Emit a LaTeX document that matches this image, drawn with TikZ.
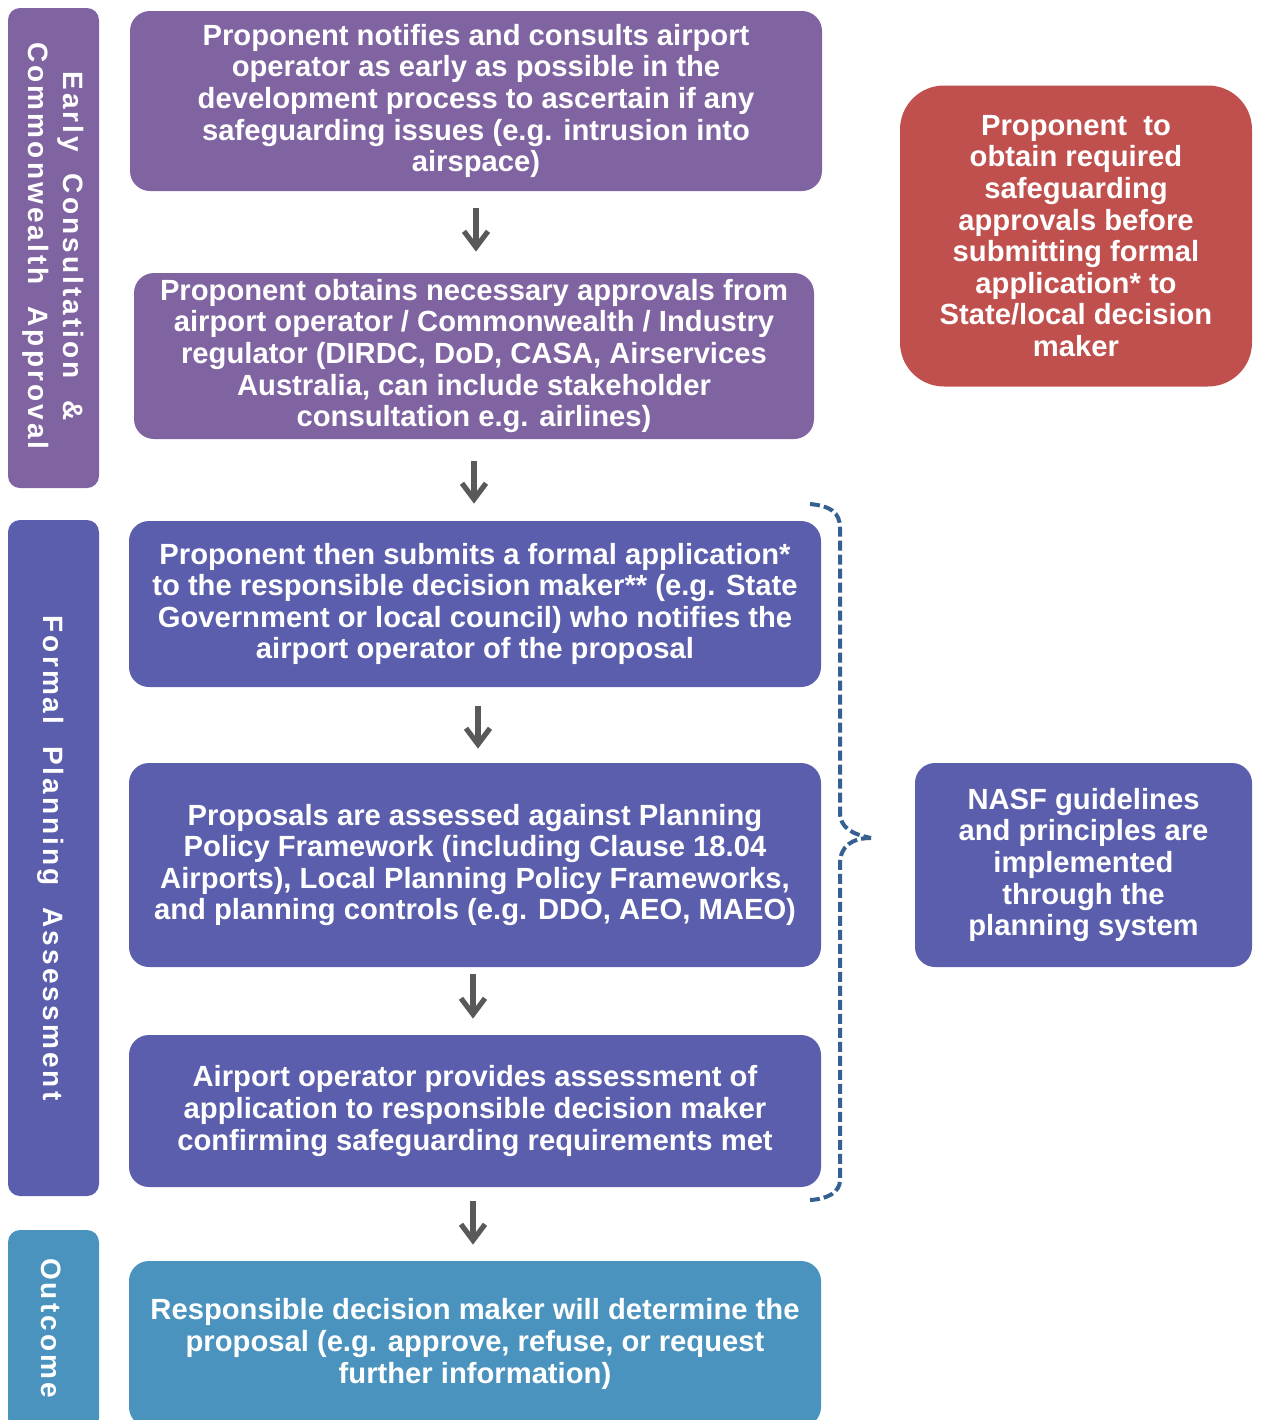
\documentclass[tikz,border=0pt]{standalone}
\usepackage{fontspec}
\setmainfont{Liberation Sans}
\usepackage{tikz}
\usetikzlibrary{positioning}
\usetikzlibrary{calc,arrows.meta}

\definecolor{earlypurple}{RGB}{128,100,162}
\definecolor{formalblue}{RGB}{90,94,172}
\definecolor{outcomeblue}{RGB}{75,147,191}
\definecolor{safered}{RGB}{192,80,77}
\definecolor{arrowgray}{RGB}{89,89,89}
\definecolor{bracketblue}{RGB}{52,96,146}

\begin{document}
\begin{tikzpicture}[x=0.5pt,y=-0.5pt,
  stepbox/.style={rounded corners=10pt, inner sep=0pt, text=white,
    align=center, font=\fontsize{14.6}{15.8}\selectfont\bfseries},
  sidebar/.style={rounded corners=6pt, inner sep=0pt, minimum width=45.5pt},
  sidetext/.style={rotate=-90, text=white, align=center,
    font=\fontsize{14}{17.5}\selectfont\bfseries\addfontfeatures{LetterSpace=11}},
  flowarrow/.style={draw=arrowgray, line width=2.6pt,
    -{Straight Barb[length=8pt,width=12pt]}},
  bracket/.style={draw=bracketblue, line width=2pt, dash pattern=on 5pt off 2pt}]

% Define page size
\pgfmathsetmacro{\pagew}{1260}
\pgfmathsetmacro{\pageh}{1420}
\clip (0,0) rectangle (\pagew,\pageh);

% Draw side bars
\node[sidebar, fill=earlypurple, minimum height=240pt] (early) at (53.5,248) {};
\node[sidebar, fill=formalblue, minimum height=338pt] (formal) at (53.5,858) {};
\node[sidebar, fill=outcomeblue, minimum height=100pt] (outcome) at (53.5,1330) {};

\node[sidetext] (earlytxt) at (53,246) {Early~ Consultation~ \&\\Commonwealth~ Approval};
\node[sidetext] (formaltxt) at (51,858) {Formal~ Planning~ Assessment};
\node[sidetext] (outcometxt) at (51,1328) {Outcome};

% Draw process steps
\node[stepbox, fill=earlypurple, minimum width=346pt, minimum height=90pt] (notify) at (476,101)
  {Proponent notifies and consults airport\\operator as early as possible in the\\development process to ascertain if any\\safeguarding issues (e.g. intrusion into\\airspace)};
\node[stepbox, fill=earlypurple, minimum width=340pt, minimum height=83pt] (approvals) at (474,356)
  {Proponent obtains necessary approvals from\\airport operator / Commonwealth / Industry\\regulator (DIRDC, DoD, CASA, Airservices\\Australia, can include stakeholder\\consultation e.g. airlines)};
\node[stepbox, fill=formalblue, minimum width=346pt, minimum height=83pt] (submit) at (475,604)
  {Proponent then submits a formal application*\\to the responsible decision maker** (e.g. State\\Government or local council) who notifies the\\airport operator of the proposal};
\node[stepbox, fill=formalblue, minimum width=346pt, minimum height=102pt] (assess) at (475,865)
  {Proposals are assessed against Planning\\Policy Framework (including Clause 18.04\\Airports), Local Planning Policy Frameworks,\\and planning controls (e.g. DDO, AEO, MAEO)};
\node[stepbox, fill=formalblue, minimum width=346pt, minimum height=76pt] (operator) at (475,1111)
  {Airport operator provides assessment of\\application to responsible decision maker\\confirming safeguarding requirements met};
\node[stepbox, fill=outcomeblue, minimum width=346pt, minimum height=83pt] (decide) at (475,1344)
  {Responsible decision maker will determine the\\proposal (e.g. approve, refuse, or request\\further information)};

% Draw side notes
\node[stepbox, fill=safered, rounded corners=22pt, minimum width=176pt, minimum height=150.5pt] (obtain) at (1076,236)
  {Proponent~ to\\obtain required\\safeguarding\\approvals before\\submitting formal\\application* to\\State/local decision\\maker};
\node[stepbox, fill=formalblue, minimum width=168.5pt, minimum height=102pt] (nasf) at (1083.5,865)
  {NASF guidelines\\and principles are\\implemented\\through the\\planning system};

% Draw arrows between steps
\draw[flowarrow, shorten <=8.5pt, shorten >=10.5pt] (notify.south) -- (notify.south |- approvals.north);
\draw[flowarrow, shorten <=11pt, shorten >=8.5pt] (approvals.south) -- (approvals.south |- submit.north);
\draw[flowarrow, shorten <=9.5pt, shorten >=7pt] ([xshift=1.5pt]submit.south) -- ([xshift=1.5pt]submit.south |- assess.north);
\draw[flowarrow, shorten <=3.5pt, shorten >=8pt] ([xshift=-1pt]assess.south) -- ([xshift=-1pt]assess.south |- operator.north);
\draw[flowarrow, shorten <=7pt, shorten >=8pt] ([xshift=-1pt]operator.south) -- ([xshift=-1pt]operator.south |- decide.north);

% Draw bracket round the formal steps
\draw[bracket] (810,504) .. controls (830,506) and (840,512) .. (840,528)
  -- (840,812) .. controls (840,828) and (852,834) .. (871,838);
\draw[bracket] (871,838) .. controls (852,838) and (840,846) .. (840,864)
  -- (840,1180) .. controls (840,1192) and (828,1199) .. (810,1200);

\end{tikzpicture}
\end{document}
